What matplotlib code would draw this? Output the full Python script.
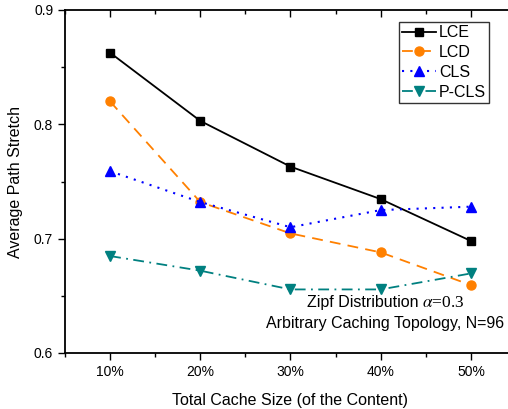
import matplotlib
matplotlib.use("Agg")
import matplotlib.pyplot as plt
from matplotlib.ticker import MultipleLocator, FixedLocator

cache_size = [10, 20, 30, 40, 50]
tick_labels = ["10%", "20%", "30%", "40%", "50%"]
lce = [0.8626, 0.803, 0.763, 0.7346, 0.698]
lcd = [0.820, 0.732, 0.7046, 0.688, 0.6594]
cls = [0.759, 0.732, 0.710, 0.725, 0.728]
pcls = [0.6848, 0.672, 0.6556, 0.6556, 0.6696]

plt.rcParams["font.family"] = ["Liberation Sans", "DejaVu Sans"]

fig = plt.figure(figsize=(5.08, 4.09), dpi=100)
ax = fig.add_axes([65 / 508, 56 / 409, 451 / 508, 343 / 409])

ax.plot(cache_size, lce, color="black", ls="-", lw=1.3, marker="s", ms=6, label="LCE")
ax.plot(cache_size, lcd, color="#FF8000", ls=(0, (6, 4)), lw=1.3, marker="o", ms=6.5, label="LCD")
ax.plot(cache_size, cls, color="#0000FF", ls=(0, (1, 3)), lw=1.5, marker="^", ms=7, label="CLS")
ax.plot(cache_size, pcls, color="#008080", ls=(0, (6, 3, 1, 3)), lw=1.3, marker="v", ms=7, label="P-CLS")

ax.set_xlim(5, 55)
ax.set_ylim(0.6, 0.9)
ax.xaxis.set_major_locator(FixedLocator(cache_size))
ax.set_xticklabels(tick_labels)
ax.xaxis.set_minor_locator(MultipleLocator(5))
ax.yaxis.set_major_locator(MultipleLocator(0.1))
ax.yaxis.set_minor_locator(MultipleLocator(0.05))
ax.yaxis.set_major_formatter(plt.FuncFormatter(lambda v, p: f"{v:.1f}"))

ax.tick_params(axis="both", which="both", direction="out", right=False, labelsize=10)
ax.tick_params(axis="x", which="both", top=True)
ax.tick_params(which="major", length=5, width=1)
ax.tick_params(which="minor", length=3, width=1)
# top ticks point inward
for t in ax.xaxis.get_major_ticks() + ax.xaxis.get_minor_ticks():
    t.tick2line.set_marker(3)
for s in ax.spines.values():
    s.set_linewidth(1.3)

ax.set_xlabel("Total Cache Size (of the Content)", fontsize=11.5, labelpad=10)
ax.set_ylabel("Average Path Stretch", fontsize=11.5, labelpad=8)

leg = ax.legend(loc="upper left", bbox_to_anchor=((399 - 65) / 451, 1 - 12 / 343), fontsize=11.5,
                frameon=True, fancybox=False, edgecolor="black", borderpad=0.2,
                labelspacing=0.3, handlelength=2.1, handletextpad=0.2, borderaxespad=0)
leg.get_frame().set_linewidth(1)

fig.text(307 / 508, 1 - 307 / 409, "Zipf Distribution", fontsize=11.5, ha="left", va="baseline")
fig.text(422 / 508, 1 - 307 / 409, r"$\alpha$=0.3", fontsize=12.5, ha="left", va="baseline",
         family=["Liberation Serif"], math_fontfamily="stix")
fig.text(504 / 508, 1 - 328 / 409, "Arbitrary Caching Topology, N=96", fontsize=11.5,
         ha="right", va="baseline")

fig.savefig("out.png", dpi=100)
